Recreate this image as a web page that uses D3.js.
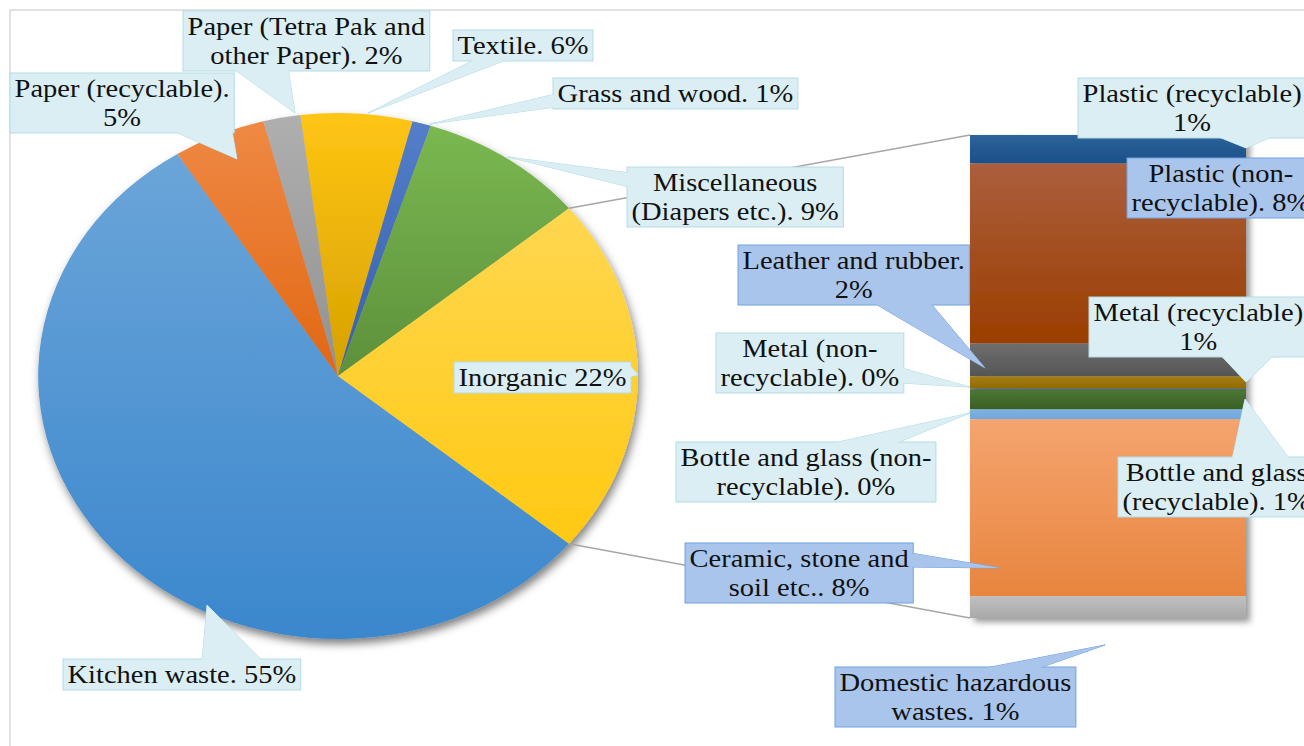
<!DOCTYPE html>
<html>
<head>
<meta charset="utf-8">
<script src="https://cdn.jsdelivr.net/npm/d3@7"></script>
<style>
  html, body { margin: 0; padding: 0; background: #ffffff; }
  svg { display: block; }
</style>
</head>
<body>
<svg id="chart" width="1304" height="746"></svg>
<script>
// ---------------- data ----------------
const pieCategories = ["Kitchen waste", "Paper (recyclable)", "Paper (Tetra Pak and other Paper)",
  "Textile", "Grass and wood", "Miscellaneous (Diapers etc.)", "Inorganic"];
const pieValues = [55, 5, 2, 6, 1, 9, 22];
const pieColors = ["#5b9bd5", "#ed7d31", "#a5a5a5", "#ffc000", "#4472c4", "#70ad47", "#ffd23c"];

const barCategories = ["Plastic (recyclable)", "Plastic (non-recyclable)", "Leather and rubber",
  "Metal (recyclable)", "Metal (non-recyclable)", "Bottle and glass (recyclable)",
  "Bottle and glass (non-recyclable)", "Ceramic, stone and soil etc.", "Domestic hazardous wastes"];
const barValues = [1.3, 8.2, 1.5, 0.55, 0.05, 0.9, 0.45, 8.05, 1.0];
// gradient (top, bottom) colours of each bar band
const barGradTop = ["#2d639b", "#ab5e3d", "#6e6e6e", "#a57d12", "#2f4f86", "#4d7734", "#80b3e3", "#f5a46f", "#c0c0c0"];
const barGradBottom = ["#1b4f87", "#9b3e00", "#555555", "#8f6a00", "#223f70", "#3a5f25", "#70a6dc", "#e8853f", "#a9a9a9"];

// ---------------- layout ----------------
const W = 1304, H = 746;
const SX = 1.14;               // horizontal stretch of the original picture
const pieCx = 338, pieCy = 376, pieR = 263;
const barX0 = 970, barX1 = 1246, barTop = 135, barBottom = 618;
const FONT = 25, LINE = 29;
const FAMILY = "Liberation Serif";

const svg = d3.select("#chart");
const defs = svg.append("defs");

function gradStops(id, top, bot) {
  const g = defs.append("linearGradient").attr("id", id)
    .attr("x1", 0).attr("y1", 0).attr("x2", 0).attr("y2", 1);
  g.append("stop").attr("offset", "0%").attr("stop-color", top);
  g.append("stop").attr("offset", "100%").attr("stop-color", bot);
  return `url(#${id})`;
}
function gradFor(id, color, up, down) {
  const c = d3.hsl(color);
  const top = d3.hsl(c.h, c.s, Math.min(0.95, c.l + up));
  const bot = d3.hsl(c.h, c.s, Math.max(0.05, c.l - down));
  return gradStops(id, top.formatHex(), bot.formatHex());
}

const fPie = defs.append("filter").attr("id", "pieShadow")
  .attr("x", "-10%").attr("y", "-10%").attr("width", "125%").attr("height", "125%");
fPie.append("feDropShadow").attr("dx", 2).attr("dy", 5).attr("stdDeviation", 4)
  .attr("flood-color", "#000").attr("flood-opacity", 0.5);
const fBar = defs.append("filter").attr("id", "barShadow")
  .attr("x", "-10%").attr("y", "-10%").attr("width", "130%").attr("height", "130%");
fBar.append("feDropShadow").attr("dx", 4).attr("dy", 4).attr("stdDeviation", 3)
  .attr("flood-color", "#000").attr("flood-opacity", 0.4);

// chart area border
svg.append("rect").attr("x", 10).attr("y", 10).attr("width", W + 20).attr("height", H + 20)
  .attr("fill", "none").attr("stroke", "#d9d9d9").attr("stroke-width", 1.5);

// ---------------- pie ----------------
const total = d3.sum(pieValues);
const otherShare = pieValues[pieValues.length - 1] / total;
const a0 = Math.PI / 2 + otherShare * Math.PI;
const pie = d3.pie().sort(null).value(d => d.v).startAngle(a0).endAngle(a0 + 2 * Math.PI);
const pieData = pie(pieCategories.map((c, i) => ({ c, v: pieValues[i], col: pieColors[i], i })));
const arc = d3.arc().innerRadius(0).outerRadius(pieR);

const pieG = svg.append("g")
  .attr("transform", `translate(${pieCx},${pieCy}) scale(${SX},1)`)
  .attr("filter", "url(#pieShadow)");
pieG.selectAll("path").data(pieData).join("path")
  .attr("d", arc)
  .attr("fill", d => gradFor("pg" + d.data.i, d.data.col, 0.04, 0.08));

// ---------------- bar ----------------
const barTotal = d3.sum(barValues);
const y = d3.scaleLinear().domain([0, barTotal]).range([barTop, barBottom]);
const x = d3.scaleLinear().domain([0, 1]).range([barX0, barX1]);
let cum = 0;
const barData = barValues.map((v, i) => { const d = { i, v, c: barCategories[i], s: cum }; cum += v; d.e = cum; return d; });

// connector lines
const other = pieData[pieData.length - 1];
function piePt(a) { return [pieCx + SX * pieR * Math.sin(a), pieCy - pieR * Math.cos(a)]; }
const pTop = piePt(other.startAngle), pBot = piePt(other.endAngle);
svg.append("line").attr("x1", pTop[0]).attr("y1", pTop[1]).attr("x2", x(0)).attr("y2", y(0))
  .attr("stroke", "#a6a6a6").attr("stroke-width", 1.5);
svg.append("line").attr("x1", pBot[0]).attr("y1", pBot[1]).attr("x2", x(0)).attr("y2", y(barTotal))
  .attr("stroke", "#a6a6a6").attr("stroke-width", 1.5);

const barG = svg.append("g").attr("filter", "url(#barShadow)");
barG.selectAll("rect").data(barData).join("rect")
  .attr("x", x(0)).attr("width", x(1) - x(0))
  .attr("y", d => y(d.s)).attr("height", d => Math.max(0, y(d.e) - y(d.s)))
  .attr("fill", d => gradStops("bg" + d.i, barGradTop[d.i], barGradBottom[d.i]));

// ---------------- callout labels ----------------
const LIGHT = { fill: "#daeef3", stroke: "#b4dbe5" };
const BLUE = { fill: "#a9c5ec", stroke: "#72a2e0" };
const labels = [
  { lines: ["Paper (recyclable).", "5%"], x0: 10, top: 73, st: LIGHT, side: "bottom", a: 172, b: 232, tip: [237, 159] },
  { lines: ["Paper (Tetra Pak and", "other Paper). 2%"], x0: 183, top: 11, st: LIGHT, side: "bottom", a: 233, b: 288, tip: [295, 113] },
  { lines: ["Textile. 6%"], x0: 453, top: 30, st: LIGHT, side: "bottom", a: 477, b: 510, tip: [368, 113] },
  { lines: ["Grass and wood. 1%"], x0: 553, top: 78, st: LIGHT, side: "left", a: 94, b: 107, tip: [430, 124] },
  { lines: ["Miscellaneous", "(Diapers etc.). 9%"], x0: 627, top: 167, st: LIGHT, side: "left", a: 173, b: 187, tip: [508, 157] },
  { lines: ["Inorganic 22%"], x0: 454, top: 362, st: LIGHT, side: "right", a: 364, b: 377, tip: [638, 375] },
  { lines: ["Kitchen waste. 55%"], x0: 63, top: 659, st: LIGHT, side: "top", a: 202, b: 263, tip: [207, 605] },
  { lines: ["Plastic (recyclable)", "1%"], x0: 1078, top: 78, st: LIGHT, side: "bottom", a: 1215, b: 1275, tip: [1246, 148] },
  { lines: ["Plastic (non-", "recyclable). 8%"], x0: 1127, top: 158, st: BLUE, side: null },
  { lines: ["Leather and rubber.", "2%"], x0: 738, top: 245, st: BLUE, side: "bottom", a: 873, b: 930, tip: [985, 368] },
  { lines: ["Metal (recyclable)", "1%"], x0: 1089, top: 297, st: LIGHT, side: "bottom", a: 1220, b: 1275, tip: [1246, 382] },
  { lines: ["Metal (non-", "recyclable). 0%"], x0: 716, top: 333, st: LIGHT, side: "right", a: 368, b: 383, tip: [970, 387] },
  { lines: ["Bottle and glass (non-", "recyclable). 0%"], x0: 676, top: 442, st: LIGHT, side: "top", a: 827, b: 893, tip: [970, 413] },
  { lines: ["Bottle and glass", "(recyclable). 1%"], x0: 1118, top: 457, st: LIGHT, side: "top", a: 1232, b: 1290, tip: [1245, 399] },
  { lines: ["Ceramic, stone and", "soil etc.. 8%"], x0: 685, top: 543, st: BLUE, side: "right", a: 553, b: 567, tip: [1000, 568] },
  { lines: ["Domestic hazardous", "wastes. 1%"], x0: 835, top: 667, st: BLUE, side: "top", a: 978, b: 1035, tip: [1105, 645] }
];

// measure text
const meas = svg.append("text").attr("font-size", FONT).attr("font-family", FAMILY)
  .attr("visibility", "hidden");
function textW(s) { meas.text(s); return meas.node().getComputedTextLength() * SX; }

const labG = svg.append("g");
labels.forEach(L => {
  const tw = d3.max(L.lines, textW);
  const w = tw + 9;
  const h = L.lines.length * LINE + 2;
  const x0 = L.x0, y0 = L.top, x1 = x0 + w, y1 = y0 + h;
  const g = labG.append("g");
  let poly = null;
  if (L.side) {
    const inset = 2.5;
    let p1, p2;
    if (L.side === "bottom") { p1 = [L.a, y1 - inset]; p2 = [L.b, y1 - inset]; }
    if (L.side === "top") { p1 = [L.a, y0 + inset]; p2 = [L.b, y0 + inset]; }
    if (L.side === "left") { p1 = [x0 + inset, L.a]; p2 = [x0 + inset, L.b]; }
    if (L.side === "right") { p1 = [x1 - inset, L.a]; p2 = [x1 - inset, L.b]; }
    poly = [p1, L.tip, p2];
    g.append("polygon").attr("points", poly.map(p => p.join(",")).join(" "))
      .attr("fill", L.st.fill).attr("stroke", L.st.stroke).attr("stroke-width", 1);
  }
  g.append("rect").attr("x", x0).attr("y", y0).attr("width", w).attr("height", h)
    .attr("fill", L.st.fill).attr("stroke", L.st.stroke).attr("stroke-width", 1);
  if (poly) {
    g.append("polygon").attr("points", poly.map(p => p.join(",")).join(" "))
      .attr("fill", L.st.fill).attr("stroke", "none");
  }
  const cx = x0 + w / 2;
  L.lines.forEach((s, k) => {
    g.append("text")
      .attr("transform", `translate(${cx},${y0 + 24 + k * LINE}) scale(${SX},1)`)
      .attr("text-anchor", "middle").attr("font-size", FONT)
      .attr("font-family", FAMILY).attr("fill", "#111")
      .text(s);
  });
});
meas.remove();
</script>
</body>
</html>
